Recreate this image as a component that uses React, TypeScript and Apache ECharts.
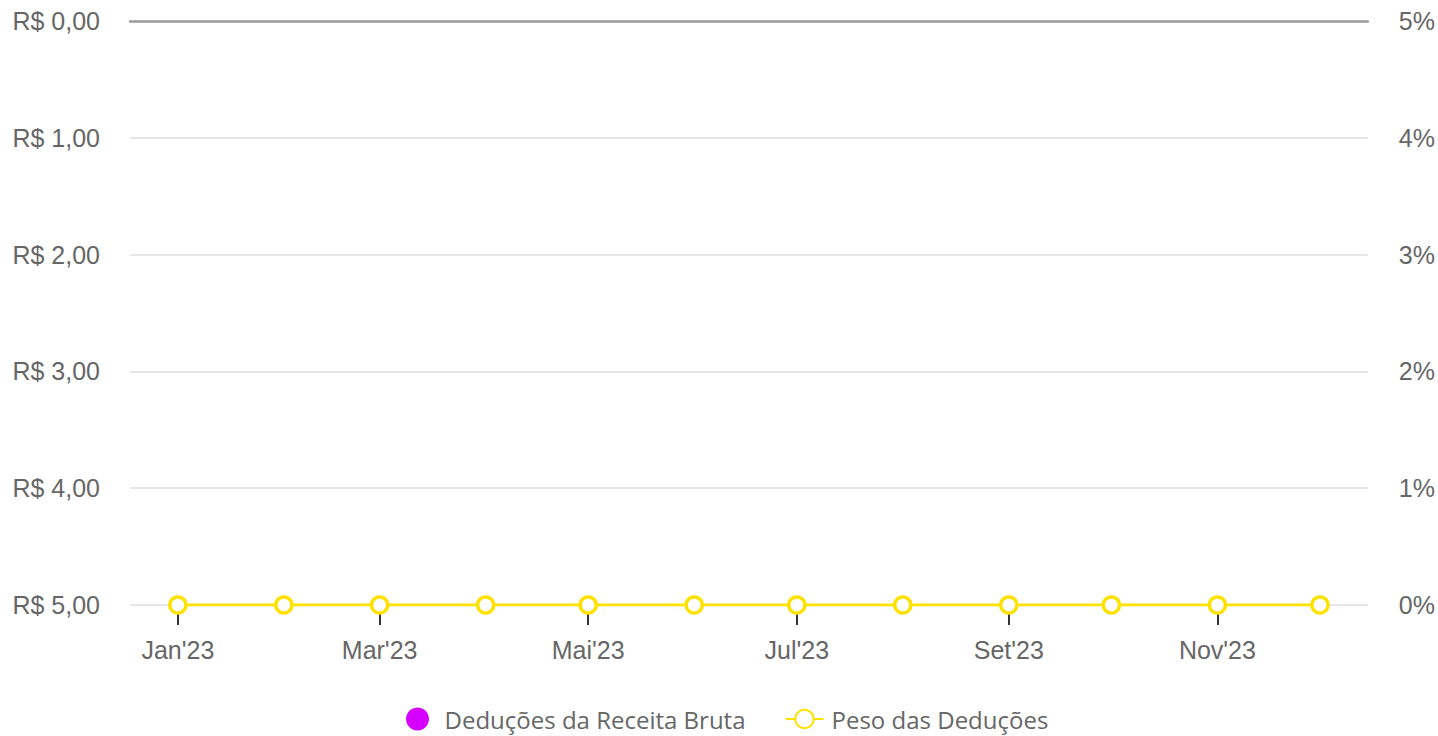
import React, { useEffect, useRef } from "react";
import * as echarts from "echarts";

const months = [
  "2023-01-01", "2023-02-01", "2023-03-01", "2023-04-01", "2023-05-01", "2023-06-01",
  "2023-07-01", "2023-08-01", "2023-09-01", "2023-10-01", "2023-11-01", "2023-12-01",
];
const deducoes = [0, 0, 0, 0, 0, 0, 0, 0, 0, 0, 0, 0];
const peso = [0, 0, 0, 0, 0, 0, 0, 0, 0, 0, 0, 0];
const labelMonths = ["2023-01-01", "2023-03-01", "2023-05-01", "2023-07-01", "2023-09-01", "2023-11-01"];
const monthNames = ["Jan", "Fev", "Mar", "Abr", "Mai", "Jun", "Jul", "Ago", "Set", "Out", "Nov", "Dez"];
const xMin = "2022-12-18";
const xMax = "2023-12-15";

const ts = (s: string) => {
  const [y, m, d] = s.split("-").map(Number);
  return Date.UTC(y, m - 1, d);
};

export default function App() {
  const ref = useRef<HTMLDivElement>(null);
  useEffect(() => {
    if (!ref.current) return;
    const chart = echarts.init(ref.current, null, { renderer: "svg" });
    const labelFont = { fontFamily: "'Liberation Sans', Arial, sans-serif", fontSize: 25, color: "#666" };
    chart.setOption({
      animation: false,
      grid: { left: 130, right: 70, top: 21, bottom: 131 },
      legend: {
        bottom: 0,
        left: 401,
        itemWidth: 38,
        itemHeight: 23,
        itemGap: 39,
        textStyle: { fontFamily: "'Open Sans', sans-serif", fontSize: 24, color: "#666", padding: [0, 0, 0, 3] },
        data: [
          { name: "Deduções da Receita Bruta", icon: "circle" },
          { name: "Peso das Deduções" },
        ],
      },
      xAxis: [
        {
          type: "value",
          min: ts(xMin),
          max: ts(xMax),
          position: "bottom",
          axisLine: { show: false, onZero: false },
          axisTick: {
            show: true,
            length: 20,
            lineStyle: { color: "#333", width: 2 },
            customValues: labelMonths.map(ts),
          },
          splitLine: { show: false },
          axisLabel: {
            ...labelFont,
            margin: 32,
            customValues: labelMonths.map(ts),
            formatter: (v: number) => {
              const d = new Date(v);
              return monthNames[d.getUTCMonth()] + "'" + String(d.getUTCFullYear()).slice(2);
            },
          },
        },
        {
          type: "value",
          min: ts(xMin),
          max: ts(xMax),
          position: "top",
          axisLine: { show: true, onZero: false, lineStyle: { color: "#9a9a9a", width: 2.5 } },
          axisTick: { show: false },
          axisLabel: { show: false },
          splitLine: { show: false },
        },
      ],
      yAxis: [
        {
          type: "value",
          inverse: true,
          min: 0,
          max: 5,
          interval: 1,
          axisLine: { show: false },
          axisTick: { show: false },
          splitLine: { lineStyle: { color: "#e6e6e6", width: 2 } },
          axisLabel: {
            ...labelFont,
            margin: 30,
            formatter: (v: number) => "R$ " + v.toFixed(2).replace(".", ","),
          },
        },
        {
          type: "value",
          min: 0,
          max: 5,
          interval: 1,
          axisLine: { show: false },
          axisTick: { show: false },
          splitLine: { show: false },
          axisLabel: { ...labelFont, margin: 31, formatter: "{value}%" },
        },
      ],
      series: [
        {
          name: "Deduções da Receita Bruta",
          type: "bar",
          xAxisIndex: 0,
          yAxisIndex: 0,
          barWidth: 40,
          itemStyle: { color: "#d500ff" },
          data: months.map((m, i) => [ts(m), deducoes[i]]),
        },
        {
          name: "Peso das Deduções",
          type: "line",
          xAxisIndex: 0,
          yAxisIndex: 1,
          symbol: "circle",
          symbolSize: 16,
          showAllSymbol: true,
          lineStyle: { color: "#ffe100", width: 3 },
          itemStyle: { color: "#fff", borderColor: "#ffe100", borderWidth: 3.5 },
          data: months.map((m, i) => [ts(m), peso[i]]),
        },
      ],
    });
    return () => chart.dispose();
  }, []);
  return <div ref={ref} style={{ width: 1438, height: 736, position: "absolute", left: 0, top: 0 }} />;
}
